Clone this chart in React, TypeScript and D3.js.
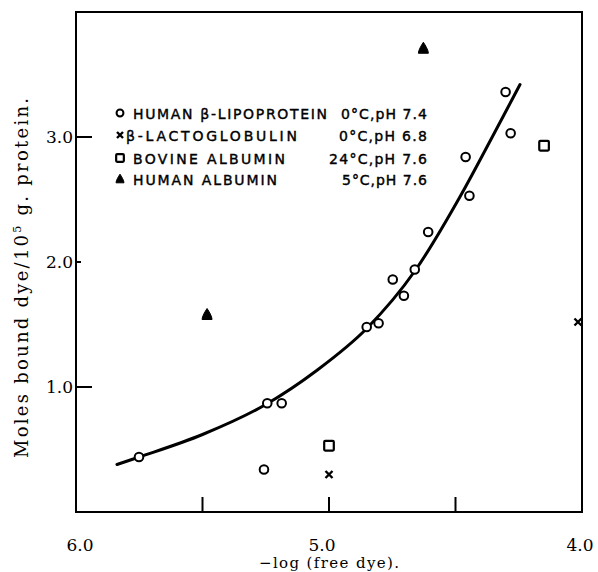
import React, { Component } from "react";
import * as d3 from "d3";

// -log(free dye), moles bound dye / 10^5 g protein
const lipoprotein: [number, number][] = [
  [5.751, 0.44],
  [5.257, 0.34],
  [5.244, 0.87],
  [5.187, 0.87],
  [4.851, 1.48],
  [4.804, 1.51],
  [4.748, 1.86],
  [4.704, 1.73],
  [4.661, 1.94],
  [4.608, 2.24],
  [4.445, 2.53],
  [4.46, 2.84],
  [4.282, 3.03],
  [4.302, 3.36],
];
const lactoglobulin: [number, number][] = [
  [5.0, 0.3],
  [4.016, 1.52],
];
const bovineAlbumin: [number, number][] = [
  [5.0, 0.53],
  [4.15, 2.93],
];
const humanAlbumin: [number, number][] = [
  [5.482, 1.58],
  [4.627, 3.71],
];
const fittedCurve: [number, number][] = [
  [5.838, 0.38],
  [5.75, 0.44],
  [5.5, 0.62],
  [5.25, 0.86],
  [5.05, 1.13],
  [4.85, 1.47],
  [4.66, 1.93],
  [4.48, 2.53],
  [4.36, 2.98],
  [4.245, 3.42],
];

const xTickValues = [5.5, 5.0, 4.5];
const xLabelValues = [6.0, 5.0, 4.0];
const yTickValues = [1.0, 2.0, 3.0];

const legendNames = [
  "HUMAN β-LIPOPROTEIN",
  "β-LACTOGLOBULIN",
  "BOVINE ALBUMIN",
  "HUMAN ALBUMIN",
];
const legendConditions = ["0°C,pH 7.4", "0°C,pH 6.8", "24°C,pH 7.6", "5°C,pH 7.6"];
const legendMarkers = ["circle", "cross", "square", "triangle"];

const W = 598;
const H = 572;

class BindingChart extends Component {
  body: React.RefObject<SVGSVGElement | null>;
  constructor(props: any) {
    super(props);
    this.body = React.createRef();
  }

  drawMarker(g: any, kind: string, cx: number, cy: number, small: boolean) {
    const s = small ? 0.8 : 1;
    if (kind === "circle") {
      g.append("circle")
        .attr("cx", cx)
        .attr("cy", cy)
        .attr("r", 4.3 * s)
        .attr("fill", "#fff")
        .attr("stroke", "#000")
        .attr("stroke-width", 2);
    } else if (kind === "square") {
      const h = 4.8 * s;
      g.append("rect")
        .attr("x", cx - h)
        .attr("y", cy - h)
        .attr("width", 2 * h)
        .attr("height", 2 * h)
        .attr("rx", 1)
        .attr("fill", "#fff")
        .attr("stroke", "#000")
        .attr("stroke-width", 2.2);
    } else if (kind === "cross") {
      const h = small ? 3 : 3.5;
      g.append("path")
        .attr("d", `M${cx - h},${cy - h}L${cx + h},${cy + h}M${cx + h},${cy - h}L${cx - h},${cy + h}`)
        .attr("stroke", "#000")
        .attr("stroke-width", 2.4)
        .attr("fill", "none");
    } else {
      const h = 6 * s;
      g.append("path")
        .attr(
          "d",
          `M${cx},${cy - h}C${cx + 2 * s},${cy - h + 3 * s} ${cx + 5 * s},${cy + 2 * s} ${cx + 5 * s},${cy + h - 1}` +
            `L${cx - 5 * s},${cy + h - 1}C${cx - 5 * s},${cy + 2 * s} ${cx - 2 * s},${cy - h + 3 * s} ${cx},${cy - h}Z`
        )
        .attr("fill", "#000")
        .attr("stroke", "#000")
        .attr("stroke-width", 1);
    }
  }

  componentDidMount() {
    const svg = d3.select(this.body.current);
    svg.selectAll("*").remove();

    const left = 76;
    const right = 582;
    const top = 12;
    const bottom = 512;

    const xScale = d3.scaleLinear().domain([6, 4]).range([left, right]);
    const yScale = d3.scaleLinear().domain([0, 4]).range([bottom, top]);

    svg.append("rect").attr("width", W).attr("height", H).attr("fill", "#fff");

    // frame
    svg
      .append("rect")
      .attr("x", left)
      .attr("y", top)
      .attr("width", right - left)
      .attr("height", bottom - top)
      .attr("fill", "none")
      .attr("stroke", "#000")
      .attr("stroke-width", 2);

    // ticks, pointing into the plot
    svg
      .selectAll("line.xtick")
      .data(xTickValues)
      .enter()
      .append("line")
      .attr("class", "xtick")
      .attr("x1", (d) => xScale(d))
      .attr("x2", (d) => xScale(d))
      .attr("y1", bottom)
      .attr("y2", bottom - 15)
      .attr("stroke", "#000")
      .attr("stroke-width", 2);

    svg
      .selectAll("line.ytick")
      .data(yTickValues)
      .enter()
      .append("line")
      .attr("class", "ytick")
      .attr("x1", left)
      .attr("x2", (d) => left + (d === 2 ? 5 : 16))
      .attr("y1", (d) => yScale(d))
      .attr("y2", (d) => yScale(d))
      .attr("stroke", "#000")
      .attr("stroke-width", 2);

    const serif = "'DejaVu Serif', 'Liberation Serif', serif";

    svg
      .selectAll("text.xlab")
      .data(xLabelValues)
      .enter()
      .append("text")
      .attr("class", "xlab")
      .attr("x", (d) => xScale(d) + (d === 6 ? 4 : d === 4 ? -2 : -7))
      .attr("y", 551)
      .attr("text-anchor", "middle")
      .attr("font-family", serif)
      .attr("font-size", 17)
      .text((d) => d.toFixed(1));

    svg
      .selectAll("text.ylab")
      .data(yTickValues)
      .enter()
      .append("text")
      .attr("class", "ylab")
      .attr("x", 73)
      .attr("y", (d) => yScale(d) + 6)
      .attr("text-anchor", "end")
      .attr("font-family", serif)
      .attr("font-size", 17)
      .text((d) => d.toFixed(1));

    svg
      .append("text")
      .attr("x", 329)
      .attr("y", 568)
      .attr("text-anchor", "middle")
      .attr("font-family", serif)
      .attr("font-size", 15)
      .attr("textLength", 140)
      .attr("lengthAdjust", "spacing")
      .text("\u2212log (free dye).");

    const yTitle = svg
      .append("text")
      .attr("transform", "translate(28,278) rotate(-90)")
      .attr("text-anchor", "middle")
      .attr("font-family", serif)
      .attr("font-size", 18)
      .attr("textLength", 360)
      .attr("lengthAdjust", "spacing");
    yTitle.append("tspan").text("Moles bound dye/10");
    yTitle.append("tspan").attr("font-size", 11).attr("dy", -7).text("5");
    yTitle.append("tspan").attr("dy", 7).text(" g. protein.");

    // fitted curve
    const line = d3
      .line<[number, number]>()
      .x((d) => xScale(d[0]))
      .y((d) => yScale(d[1]))
      .curve(d3.curveMonotoneX);

    svg
      .append("path")
      .attr("d", line(fittedCurve))
      .attr("fill", "none")
      .attr("stroke", "#000")
      .attr("stroke-width", 3)
      .attr("stroke-linecap", "round");

    const pts = svg.append("g");
    const series: [string, [number, number][]][] = [
      ["circle", lipoprotein],
      ["cross", lactoglobulin],
      ["square", bovineAlbumin],
      ["triangle", humanAlbumin],
    ];
    series.forEach(([kind, data]) => {
      data.forEach((d) => this.drawMarker(pts, kind, xScale(d[0]), yScale(d[1]), false));
    });

    // legend
    const sans = "'DejaVu Sans', 'Liberation Sans', sans-serif";
    const rowY = [113, 135, 158, 179];
    const nameX = [133, 126, 133, 133];
    const nameLen = [194, 171, 152, 144];
    const condLen = [86, 88, 98, 85];
    const lg = svg.append("g");
    legendNames.forEach((name, i) => {
      this.drawMarker(lg, legendMarkers[i], 120, rowY[i], true);
      lg.append("text")
        .attr("x", nameX[i])
        .attr("y", rowY[i] + 5.5)
        .attr("font-family", sans)
        .attr("font-size", 14)
        .attr("stroke", "#000")
        .attr("stroke-width", 0.4)
        .attr("textLength", nameLen[i])
        .attr("lengthAdjust", "spacing")
        .text(name);
      lg.append("text")
        .attr("x", 427)
        .attr("y", rowY[i] + 5.5)
        .attr("text-anchor", "end")
        .attr("font-family", sans)
        .attr("font-size", 14)
        .attr("stroke", "#000")
        .attr("stroke-width", 0.4)
        .attr("textLength", condLen[i])
        .attr("lengthAdjust", "spacing")
        .text(legendConditions[i]);
    });
  }

  render() {
    return (
      <svg
        ref={this.body}
        width={W}
        height={H}
        style={{ position: "absolute", left: 0, top: 0, display: "block" }}
      />
    );
  }
}

export default function App() {
  return <BindingChart />;
}
